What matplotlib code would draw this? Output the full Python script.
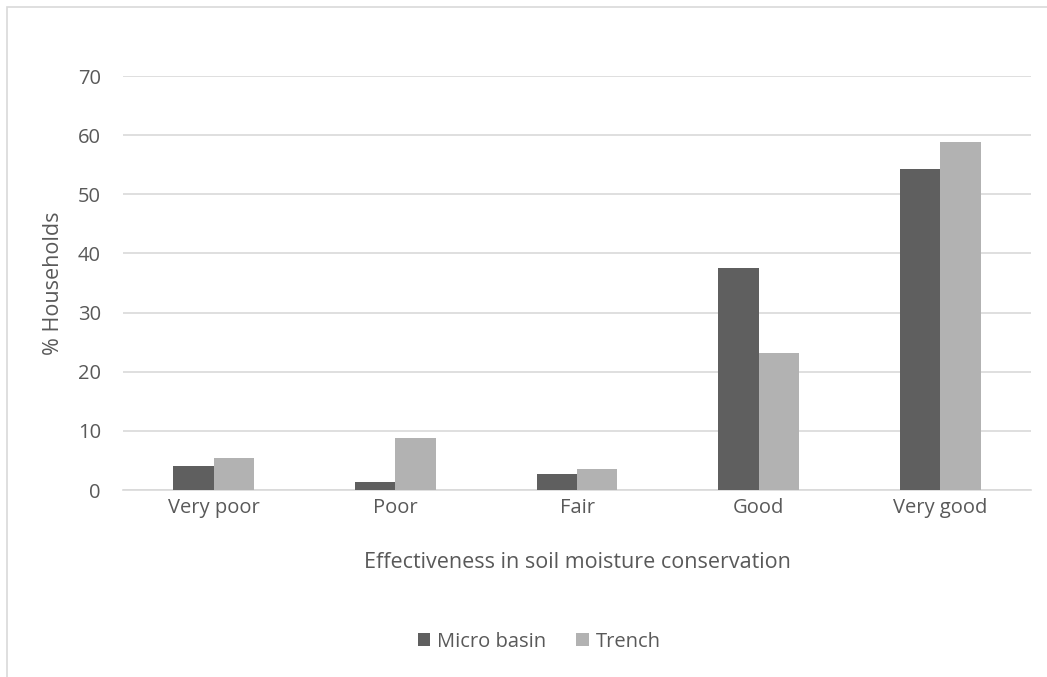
import matplotlib.pyplot as plt
import numpy as np
from matplotlib.patches import Rectangle

plt.rcParams['font.family'] = ['Open Sans', 'DejaVu Sans']

# Survey responses by rating
categories = ['Very poor', 'Poor', 'Fair', 'Good', 'Very good']
micro_basin = [4.1, 1.4, 2.7, 37.5, 54.3]
trench = [5.4, 8.8, 3.5, 23.2, 58.9]

text_col = '#595959'

fig = plt.figure(figsize=(10.47, 6.77), dpi=100)
ax = fig.add_axes([0.1175, 0.2762, 0.8672, 0.6115])

# light outer frame of the chart area
fig.patches.append(Rectangle((7 / 1047, -0.05), 1.2, 1 - 7 / 677 + 0.05,
                             transform=fig.transFigure, fill=False,
                             edgecolor='#d9d9d9', linewidth=1.2))

x = np.arange(len(categories))
w = 0.223
ax.bar(x - w / 2, micro_basin, w, color='#5f5f5f', label='Micro basin', zorder=3)
ax.bar(x + w / 2, trench, w, color='#b2b2b2', label='Trench', zorder=3)

ax.set_xlim(-0.5, len(categories) - 0.5)
ax.set_ylim(0, 70)
ax.set_yticks(range(0, 71, 10))
ax.yaxis.grid(True, color='#d9d9d9', linewidth=1.2, zorder=0)
ax.set_axisbelow(True)
for s in ['top', 'right', 'left']:
    ax.spines[s].set_visible(False)
ax.spines['bottom'].set_color('#d9d9d9')
ax.spines['bottom'].set_linewidth(1.2)
ax.tick_params(axis='both', length=0, labelsize=14.5, colors=text_col)
ax.tick_params(axis='y', pad=16)
ax.tick_params(axis='x', pad=6)
ax.set_xticks(x)
ax.set_xticklabels(categories)

ax.set_xlabel('Effectiveness in soil moisture conservation', fontsize=15.5,
              color=text_col, labelpad=24)
ax.set_ylabel('% Households', fontsize=15.5, color=text_col, labelpad=10)

fig.legend(loc='center', bbox_to_anchor=(0.515, 0.052), ncol=2, frameon=False,
           fontsize=14.5, labelcolor=text_col, handlelength=0.62, handleheight=0.62,
           handletextpad=0.35, columnspacing=1.5)

fig.savefig('out.png', dpi=100, facecolor='white')
